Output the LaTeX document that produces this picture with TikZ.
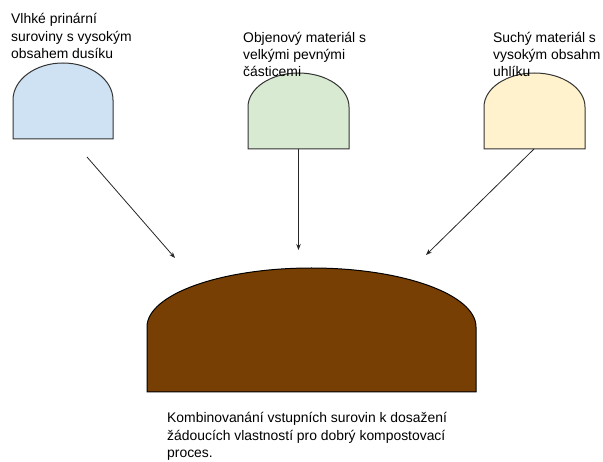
\documentclass[tikz,border=0pt]{standalone}
\usepackage{fontspec}
\setmainfont{Liberation Sans}
\usetikzlibrary{arrows.meta}

\definecolor{surblue}{HTML}{CFE2F3}
\definecolor{surgreen}{HTML}{D9EAD3}
\definecolor{suryellow}{HTML}{FFF2CC}
\definecolor{kompost}{HTML}{783F04}

\begin{document}
\begin{tikzpicture}[x=1pt, y=-1pt,
        popis/.style={anchor=base west, align=left, inner sep=0pt,
            font=\fontsize{13.9}{17.4}\selectfont},
        sipka/.style={draw=black!85, line width=0.8pt, -{Stealth[length=6pt, width=4.5pt]}}]
    \useasboundingbox (0, 0) rectangle (603, 462);

    % suroviny
    \foreach \l / \r / \t / \s / \b / \c in {13/113/63/100/139/surblue,
            248/349/73/107/149/surgreen, 484/585/73/107/149/suryellow} {
        \filldraw[fill=\c, draw=black!80, line width=1pt] (\l, \s)
            arc[start angle=180, end angle=360, x radius={(\r-\l)/2}, y radius={\s-\t}]
            -- (\r, \b) -- (\l, \b) -- cycle;
    }

    % kompost
    \filldraw[fill=kompost, draw=black, line width=1pt] (147, 327)
        arc[start angle=180, end angle=360, x radius=164.5, y radius=59]
        -- (476, 392) -- (147, 392) -- cycle;

    % popisky (souradnice = zaklad posledniho radku)
    \node[popis] (dusik) at (11, 58.6) {Vlhké prinární\\suroviny s vysokým\\obsahem dusíku};
    \node[popis] (objem) at (243, 77) {Objenový materiál s\\velkými pevnými\\částicemi};
    \node[popis] (uhlik) at (493, 77) {Suchý materiál s\\vysokým obsahm\\uhlíku};
    \node[popis] (proces) at (167, 457.5) {Kombinovanání vstupních surovin k dosažení\\žádoucích vlastností pro dobrý kompostovací\\proces.};

    % sipky
    \coordinate (startA) at (87, 157);
    \coordinate (startB) at (298.5, 149);
    \coordinate (startC) at (534, 149);
    \coordinate (cilA) at (175, 258);
    \coordinate (cilB) at (298.5, 250);
    \coordinate (cilC) at (426, 255);
    \foreach \x in {A, B, C} {
        \draw[sipka] (start\x) -- (cil\x);
    }

\end{tikzpicture}
\end{document}
